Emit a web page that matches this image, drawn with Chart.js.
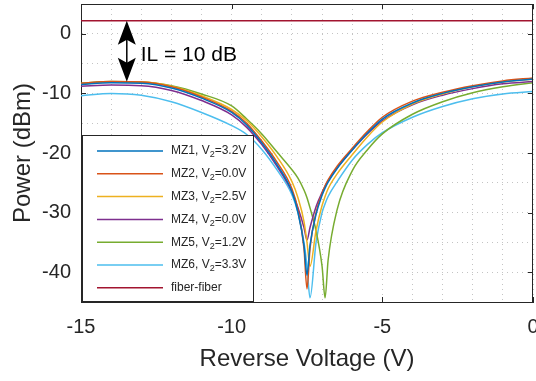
<!DOCTYPE html>
<html>
<head>
<meta charset="utf-8">
<script src="https://cdn.jsdelivr.net/npm/chart.js@4.4.1/dist/chart.umd.min.js"></script>
<style>
  html, body { margin: 0; padding: 0; background: #fff; }
  #wrap { width: 536px; height: 381px; }
</style>
</head>
<body>
<div id="wrap"><canvas id="powerChart"></canvas></div>
<script>
// Reverse voltage (V) sample points
var voltage = [-15, -14, -13, -12, -11, -10, -9.5, -9, -8.5, -8, -7.8, -7.6, -7.5, -7.4, -7.2, -7, -6.9, -6.8, -6.5, -6, -5.5, -5, -4, -3, -2, -1, 0];

// Output power (dBm)
var mz1 = [-8.5, -8.2, -8.3, -9.1, -10.8, -13.2, -15.3, -18.3, -21.9, -26.5, -30, -35.5, -40.5, -35.5, -30.3, -27.1, -25.9, -24.9, -22.6, -19.5, -16.7, -14.3, -11.6, -10.0, -8.9, -8.1, -7.6];
var mz2 = [-8.3, -8.0, -8.1, -8.9, -10.6, -13.0, -15.0, -18.0, -21.5, -26.0, -29.5, -36.0, -42.8, -36.0, -30.0, -26.8, -25.5, -24.5, -22.2, -19.2, -16.4, -14.0, -11.3, -9.8, -8.7, -7.9, -7.4];
var mz3 = [-8.4, -8.1, -8.1, -8.8, -10.4, -12.7, -14.6, -17.3, -20.6, -24.8, -27.5, -31.5, -35, -39, -33, -28.8, -27.3, -26, -23.5, -20.3, -17.3, -14.8, -11.8, -10.1, -8.9, -8.1, -7.6];
var mz4 = [-8.8, -8.6, -8.7, -9.5, -11.2, -13.6, -15.7, -18.6, -22.2, -26.5, -29.2, -32.5, -34.6, -32.5, -29, -26.6, -25.6, -24.7, -22.5, -19.5, -16.8, -14.6, -11.9, -10.3, -9.2, -8.4, -8.0];
var mz5 = [-8.3, -8.0, -8.1, -8.7, -10.1, -12.1, -14.3, -16.8, -19.8, -22.8, -24.2, -26.2, -27.5, -29.2, -33, -39, -44.3, -38, -29.5, -23, -19.5, -16.8, -13.5, -11.4, -9.9, -8.9, -8.2];
var mz6 = [-10.4, -10.0, -10.3, -11.4, -13.2, -15.4, -16.9, -19.4, -22.8, -27, -30, -35, -39, -44.3, -35, -30, -28.5, -27.3, -24.8, -21.2, -18.6, -16.6, -14, -12.2, -10.9, -10.1, -9.7];
var fiberLevel = 2.2;

var seriesNames = ['MZ1', 'MZ2', 'MZ3', 'MZ4', 'MZ5', 'MZ6'];
var biasLabels = ['3.2V', '0.0V', '2.5V', '0.0V', '1.2V', '3.3V'];
var seriesColors = ['#0072BD', '#D95319', '#EDB120', '#7E2F8E', '#77AC30', '#4DBEEE'];
var fiberColor = '#A2142F';

var xTickLabels = [-15, -10, -5, 0];
var yTickLabels = [-40, -30, -20, -10, 0];

var FONT = '"Liberation Sans", Arial, sans-serif';

function toPoints(vals) {
    return voltage.map(function (v, i) { return { x: v, y: vals[i] }; });
}

var datasets = [mz1, mz2, mz3, mz4, mz5, mz6].map(function (vals, i) {
    return {
        label: seriesNames[i] + ', V2=' + biasLabels[i],
        data: toPoints(vals),
        borderColor: seriesColors[i],
        borderWidth: 1.5,
        pointRadius: 0,
        cubicInterpolationMode: 'monotone'
    };
});
datasets.push({
    label: 'fiber-fiber',
    data: voltage.map(function (v) { return { x: v, y: fiberLevel }; }),
    borderColor: fiberColor,
    borderWidth: 1.5,
    pointRadius: 0
});

// box, inner ticks
var framePlugin = {
    id: 'frame',
    afterDraw: function (chart) {
        var ctx = chart.ctx, a = chart.chartArea;
        var xs = chart.scales.x, ys = chart.scales.y;
        ctx.save();
        ctx.strokeStyle = '#262626';
        ctx.lineWidth = 1;
        ctx.beginPath();
        ctx.moveTo(a.left, a.top + 0.5);
        ctx.lineTo(a.right, a.top + 0.5);
        ctx.moveTo(a.right - 0.5, a.top);
        ctx.lineTo(a.right - 0.5, a.bottom);
        xTickLabels.forEach(function (v) {
            var px = Math.round(xs.getPixelForValue(v)) + 0.5;
            ctx.moveTo(px, a.bottom); ctx.lineTo(px, a.bottom - 5);
            ctx.moveTo(px, a.top); ctx.lineTo(px, a.top + 5);
        });
        yTickLabels.forEach(function (v) {
            var py = Math.round(ys.getPixelForValue(v)) + 0.5;
            ctx.moveTo(a.left, py); ctx.lineTo(a.left + 5, py);
            ctx.moveTo(a.right, py); ctx.lineTo(a.right - 5, py);
        });
        ctx.stroke();
        ctx.restore();
    }
};

// legend box in lower left, with subscript
var legendPlugin = {
    id: 'mzLegend',
    afterDraw: function (chart) {
        var ctx = chart.ctx, a = chart.chartArea;
        var left = a.left + 1, top = 135, w = 171, h = a.bottom - 135;
        ctx.save();
        ctx.fillStyle = '#fff';
        ctx.fillRect(left, top, w, h);
        ctx.strokeStyle = '#262626';
        ctx.lineWidth = 1;
        ctx.strokeRect(left + 0.5, top + 0.5, w, h - 1);
        ctx.textBaseline = 'middle';
        chart.data.datasets.forEach(function (ds, i) {
            var y = 151 + i * 22.8;
            ctx.strokeStyle = ds.borderColor;
            ctx.lineWidth = 1.5;
            ctx.beginPath();
            ctx.moveTo(97, y); ctx.lineTo(163, y);
            ctx.stroke();
            ctx.fillStyle = '#262626';
            ctx.font = '12px ' + FONT;
            var x = 171;
            if (i < seriesNames.length) {
                var t1 = seriesNames[i] + ', V';
                ctx.fillText(t1, x, y);
                x += ctx.measureText(t1).width;
                ctx.font = '9px ' + FONT;
                ctx.fillText('2', x, y + 4);
                x += ctx.measureText('2').width;
                ctx.font = '12px ' + FONT;
                ctx.fillText('=' + biasLabels[i], x, y);
            } else {
                ctx.fillText(ds.label, x, y);
            }
        });
        ctx.restore();
    }
};

// insertion loss arrow + label
var ilPlugin = {
    id: 'ilNote',
    afterDatasetsDraw: function (chart) {
        var ctx = chart.ctx, xs = chart.scales.x, ys = chart.scales.y;
        var px = xs.getPixelForValue(-13.48);
        var yTop = ys.getPixelForValue(fiberLevel);
        var yBot = ys.getPixelForValue(-8.05);
        ctx.save();
        ctx.strokeStyle = '#000';
        ctx.fillStyle = '#000';
        ctx.lineWidth = 1.5;
        ctx.beginPath();
        ctx.moveTo(px, yTop + 10); ctx.lineTo(px, yBot - 10);
        ctx.stroke();
        function head(tipY, dir) {
            ctx.beginPath();
            ctx.moveTo(px, tipY);
            ctx.lineTo(px - 9, tipY + dir * 24);
            ctx.lineTo(px, tipY + dir * 19);
            ctx.lineTo(px + 9, tipY + dir * 24);
            ctx.closePath();
            ctx.fill();
        }
        head(yTop, 1);
        head(yBot, -1);
        ctx.font = '21px ' + FONT;
        ctx.textBaseline = 'alphabetic';
        ctx.fillText('IL = 10 dB', xs.getPixelForValue(-13.02), ys.getPixelForValue(-4.5));
        ctx.restore();
    }
};

var gridStyle = {
    color: '#c4c4c4',
    lineWidth: 1,
    drawTicks: false
};

var ctxPower = document.getElementById('powerChart').getContext('2d');
var powerChart = new Chart(ctxPower, {
    type: 'line',
    data: { datasets: datasets },
    options: {
        responsive: true,
        maintainAspectRatio: false,
        animation: false,
        layout: { padding: { top: 4, right: 3, left: 0, bottom: 0 } },
        plugins: {
            legend: { display: false },
            tooltip: { enabled: false }
        },
        scales: {
            x: {
                type: 'linear',
                min: -15,
                max: 0,
                afterFit: function (s) {
                    s.height = 79;
                    s.paddingLeft = 0;
                    s.paddingRight = 0;
                },
                ticks: {
                    stepSize: 1,
                    autoSkip: false,
                    maxRotation: 0,
                    padding: 13,
                    color: '#262626',
                    font: { size: 20, family: FONT },
                    callback: function (v) { return xTickLabels.indexOf(v) >= 0 ? String(v) : ''; }
                },
                grid: gridStyle,
                border: { display: true, color: '#262626', width: 1, dash: [1, 4] },
                title: {
                    display: true,
                    text: 'Reverse Voltage (V)',
                    color: '#262626',
                    font: { size: 24, family: FONT },
                    padding: { top: 0, bottom: 7 }
                }
            },
            y: {
                type: 'linear',
                min: -45,
                max: 5,
                afterFit: function (s) {
                    s.width = 81;
                    s.paddingTop = 0;
                    s.paddingBottom = 0;
                },
                ticks: {
                    stepSize: 5,
                    autoSkip: false,
                    padding: 10,
                    color: '#262626',
                    font: { size: 20, family: FONT },
                    callback: function (v) { return yTickLabels.indexOf(v) >= 0 ? String(v) : ''; }
                },
                grid: gridStyle,
                border: { display: true, color: '#262626', width: 1, dash: [1, 4] },
                title: {
                    display: true,
                    text: 'Power (dBm)',
                    color: '#262626',
                    font: { size: 24, family: FONT },
                    padding: { top: 9, bottom: 0 }
                }
            }
        }
    },
    plugins: [framePlugin, legendPlugin, ilPlugin]
});
</script>
</body>
</html>
